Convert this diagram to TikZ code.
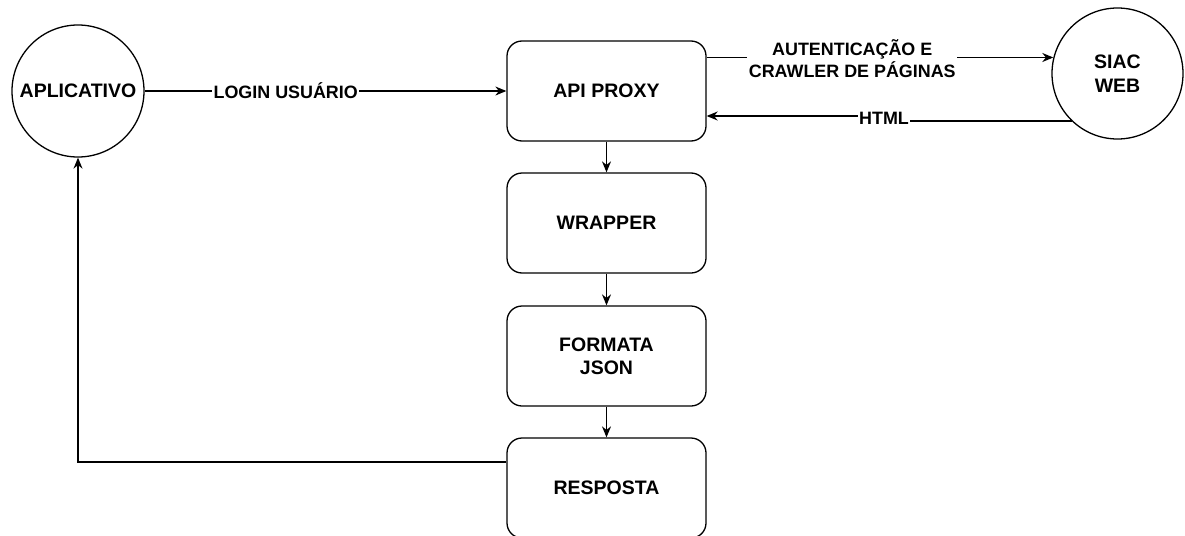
\documentclass[tikz,border=0pt]{standalone}
\usepackage{fontspec}
\setmainfont{Liberation Sans}
\usetikzlibrary{arrows.meta,calc}
\begin{document}
\begin{tikzpicture}[x=1pt,y=-1pt,
  line width=1.3pt,
  arr/.style={-{Stealth[length=11pt,width=9pt]}},
  circ/.style={draw,circle,minimum size=132pt,inner sep=0pt,align=center,
    font=\fontsize{19.5}{23.4}\selectfont\bfseries},
  procbox/.style={draw,rounded corners=15pt,minimum width=199pt,minimum height=100pt,
    align=center,font=\fontsize{19.5}{23.4}\selectfont\bfseries},
  lbl/.style={fill=white,inner sep=1.5pt,align=center,
    font=\fontsize{17.9}{21.4}\selectfont\bfseries}]
\useasboundingbox (0,0) rectangle (1185,535);
\node[circ] (app) at (78,91) {APLICATIVO};
\node[circ,minimum size=131pt] (siac) at (1117.5,73.5) {SIAC\\WEB};
\node[procbox] (proxy) at (606.5,91) {API PROXY};
\node[procbox] (wrapper) at (606.5,223) {WRAPPER};
\node[procbox] (formata) at (606.5,356) {FORMATA\\JSON};
\node[procbox] (resposta) at (606.5,488) {RESPOSTA};
% login
\draw[arr] (app) -- node[lbl,pos=0.39]{LOGIN USUÁRIO} (proxy);
% auth
\draw[arr] (proxy.east |- siac.166.3) -- node[lbl,pos=0.42,yshift=-1pt]{AUTENTICAÇÃO E\\CRAWLER DE PÁGINAS} (siac.166.3);
% html
\coordinate (hj) at (884,118.5);
\coordinate (hin) at ($(proxy.east)+(0,25)$);
\draw[arr] (siac.226.5) -- (siac.226.5 -| hj) -- (hj |- hin) -- (hin);
\node[lbl] at (hj) {HTML};
% vertical chain
\draw[arr] (proxy) -- (wrapper);
\draw[arr] (wrapper) -- (formata);
\draw[arr] (formata) -- (resposta);
% back to app
\coordinate (rw) at ($(resposta.west)+(0,-26)$);
\draw[arr] (rw) -| (app.south);
\end{tikzpicture}
\end{document}
